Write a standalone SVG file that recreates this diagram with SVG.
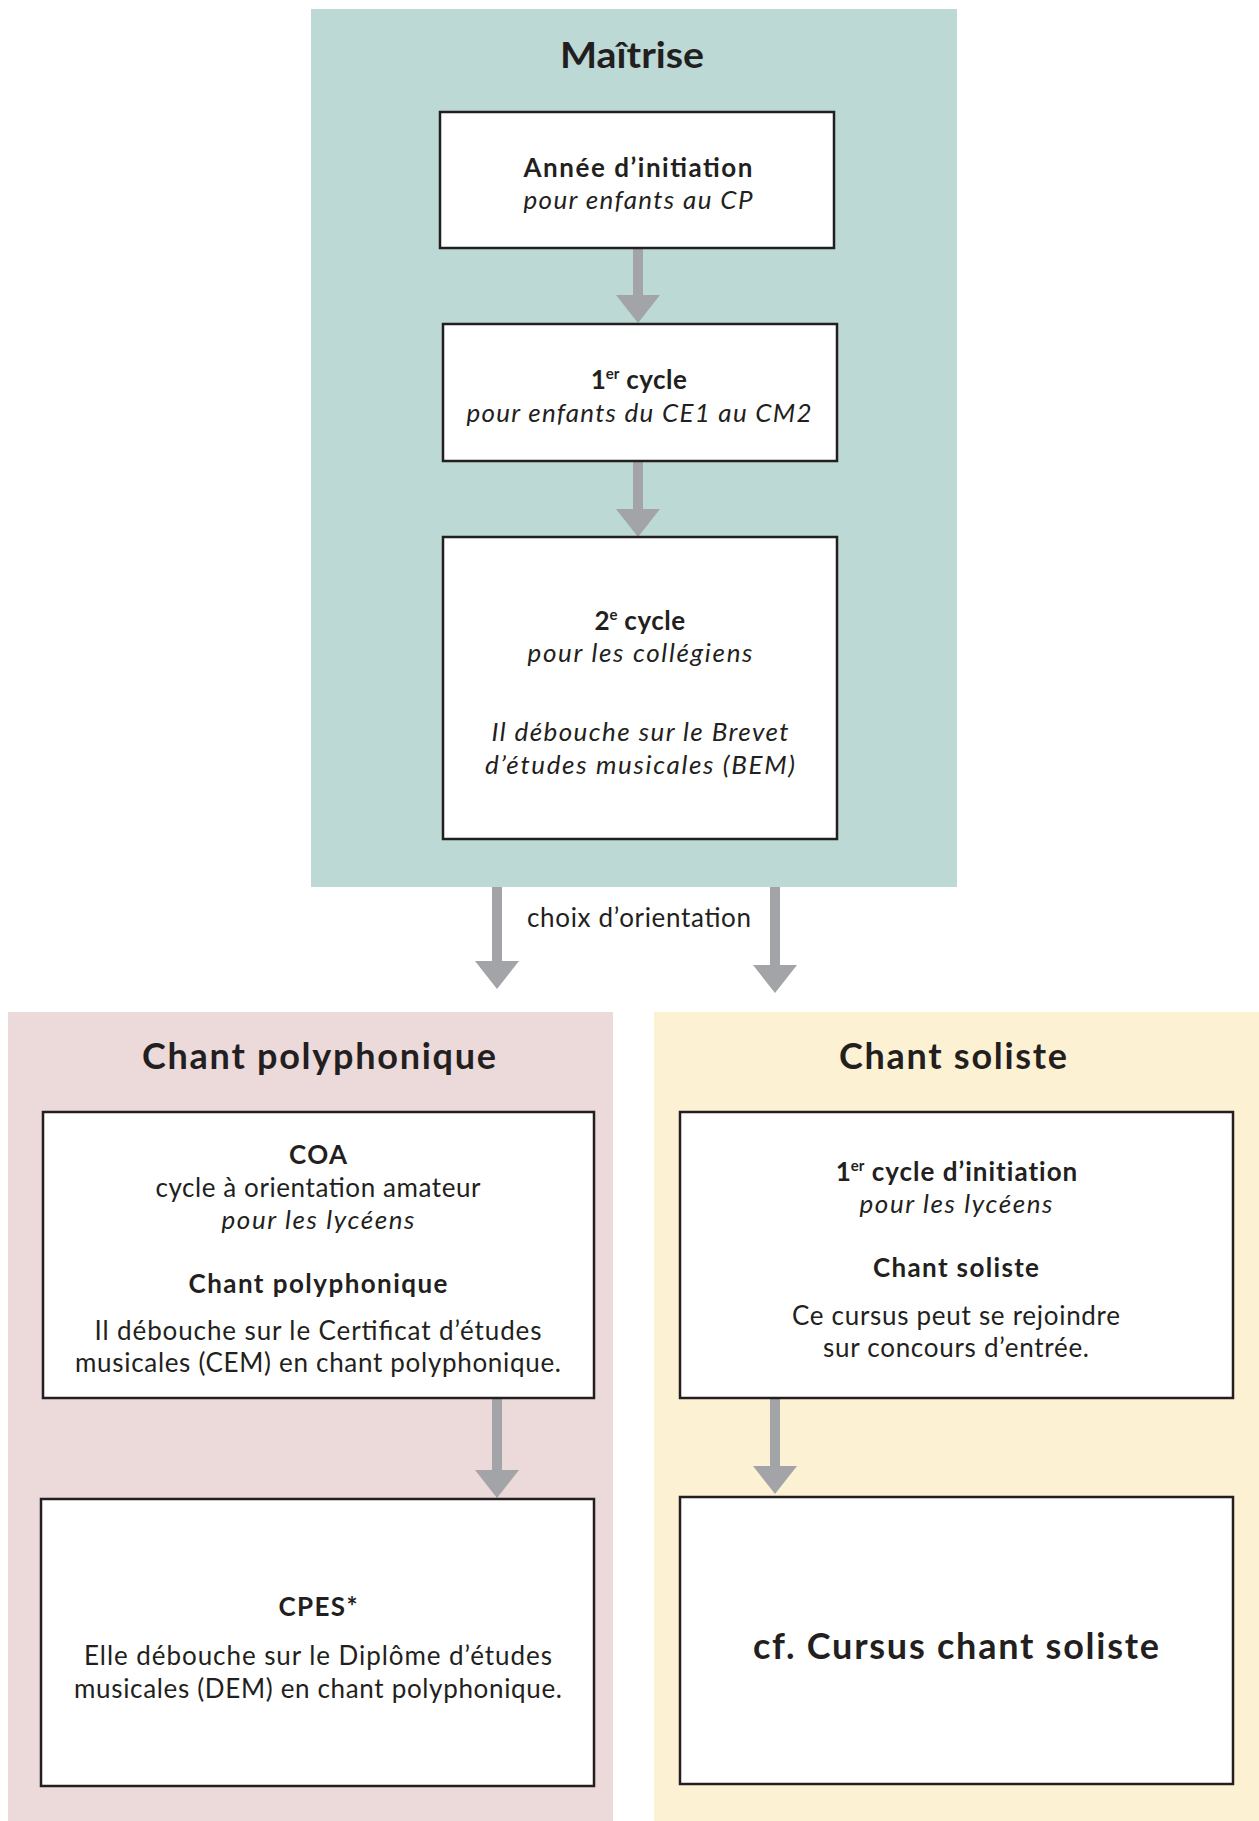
<svg xmlns="http://www.w3.org/2000/svg" width="1259" height="1821" viewBox="0 0 1259 1821">
<defs>
<style>
.panel-teal{fill:#bcd9d5}
.panel-pink{fill:#ecd9da}
.panel-yellow{fill:#fdf1d4}
.box{fill:#ffffff;stroke:#231f20;stroke-width:2.5}
text{font-family:Lato,"Noto Sans","Liberation Sans",sans-serif;fill:#231f20;text-anchor:middle}
.title{font-size:36px;font-weight:700}
.big{font-size:36px;font-weight:700}
.b{font-size:26px;font-weight:700}
.i{font-size:26px;font-style:italic;font-weight:400}
.r{font-size:26px;font-weight:400}
.sup{font-size:15px}
.shaft{fill:#a3a4a8}
</style>
</defs>
<rect width="1259" height="1821" fill="#ffffff"/>
<g id="panels">
<rect id="maitrise-panel" class="panel-teal" x="311" y="9" width="646" height="878"/>
<rect id="poly-panel" class="panel-pink" x="8" y="1012" width="605" height="809"/>
<rect id="soliste-panel" class="panel-yellow" x="654" y="1012" width="605" height="809"/>
<text class="title" x="632" y="68" textLength="144" lengthAdjust="spacingAndGlyphs">Maîtrise</text>
<text class="title" x="319" y="1069" textLength="354">Chant polyphonique</text>
<text class="title" x="953" y="1069" textLength="228">Chant soliste</text>
</g>
<g id="connectors">
<path class="shaft" d="M633,248 h10 v47 h17 l-22,28 l-22,-28 h17 z"/>
<path class="shaft" d="M633,461 h10 v48 h17 l-22,28 l-22,-28 h17 z"/>
<path class="shaft" d="M492,887 h10 v74 h17 l-22,28 l-22,-28 h17 z"/>
<path class="shaft" d="M770,887 h10 v78 h17 l-22,28 l-22,-28 h17 z"/>
<path class="shaft" d="M492,1398 h10 v72 h17 l-22,28 l-22,-28 h17 z"/>
<path class="shaft" d="M770,1398 h10 v68 h17 l-22,28 l-22,-28 h17 z"/>
<text class="r" x="639" y="927" textLength="224">choix d’orientation</text>
</g>
<g id="annee-initiation">
<rect class="box" x="440" y="112" width="394" height="136"/>
<text class="b" x="638" y="177" textLength="229">Année d’initiation</text>
<text class="i" x="638" y="209" textLength="229">pour enfants au CP</text>
</g>
<g id="premier-cycle">
<rect class="box" x="443" y="324" width="394" height="137"/>
<text class="b" x="639" y="389">1<tspan class="sup" dy="-10">er</tspan><tspan dy="10" letter-spacing="0.5"> cycle</tspan></text>
<text class="i" x="639" y="422" textLength="345">pour enfants du CE1 au CM2</text>
</g>
<g id="deuxieme-cycle">
<rect class="box" x="443" y="537" width="394" height="302"/>
<text class="b" x="640" y="630">2<tspan class="sup" dy="-10">e</tspan><tspan dy="10" letter-spacing="0.5"> cycle</tspan></text>
<text class="i" x="640" y="662" textLength="225">pour les collégiens</text>
<text class="i" x="640" y="741" textLength="297">Il débouche sur le Brevet</text>
<text class="i" x="640" y="774" textLength="310">d’études musicales (BEM)</text>
</g>
<g id="coa">
<rect class="box" x="43" y="1112" width="551" height="286"/>
<text class="b" x="318" y="1164" textLength="58">COA</text>
<text class="r" x="318" y="1197" textLength="325">cycle à orientation amateur</text>
<text class="i" x="318" y="1229" textLength="193">pour les lycéens</text>
<text class="b" x="318" y="1293" textLength="259">Chant polyphonique</text>
<text class="r" x="318" y="1340" textLength="447">Il débouche sur le Certificat d’études</text>
<text class="r" x="318" y="1372" textLength="486">musicales (CEM) en chant polyphonique.</text>
</g>
<g id="cpes">
<rect class="box" x="41" y="1499" width="553" height="287"/>
<text class="b" x="318" y="1616" textLength="79">CPES*</text>
<text class="r" x="318" y="1665" textLength="468">Elle débouche sur le Diplôme d’études</text>
<text class="r" x="318" y="1698" textLength="488">musicales (DEM) en chant polyphonique.</text>
</g>
<g id="soliste-initiation">
<rect class="box" x="680" y="1112" width="553" height="286"/>
<text class="b" x="957" y="1181">1<tspan class="sup" dy="-10">er</tspan><tspan dy="10" letter-spacing="1"> cycle d’initiation</tspan></text>
<text class="i" x="956" y="1213" textLength="193">pour les lycéens</text>
<text class="b" x="956" y="1277" textLength="166">Chant soliste</text>
<text class="r" x="956" y="1325" textLength="328">Ce cursus peut se rejoindre</text>
<text class="r" x="956" y="1357" textLength="266">sur concours d’entrée.</text>
</g>
<g id="cursus-soliste">
<rect class="box" x="680" y="1497" width="553" height="287"/>
<text class="big" x="956" y="1659" textLength="406">cf. Cursus chant soliste</text>
</g>
</svg>
